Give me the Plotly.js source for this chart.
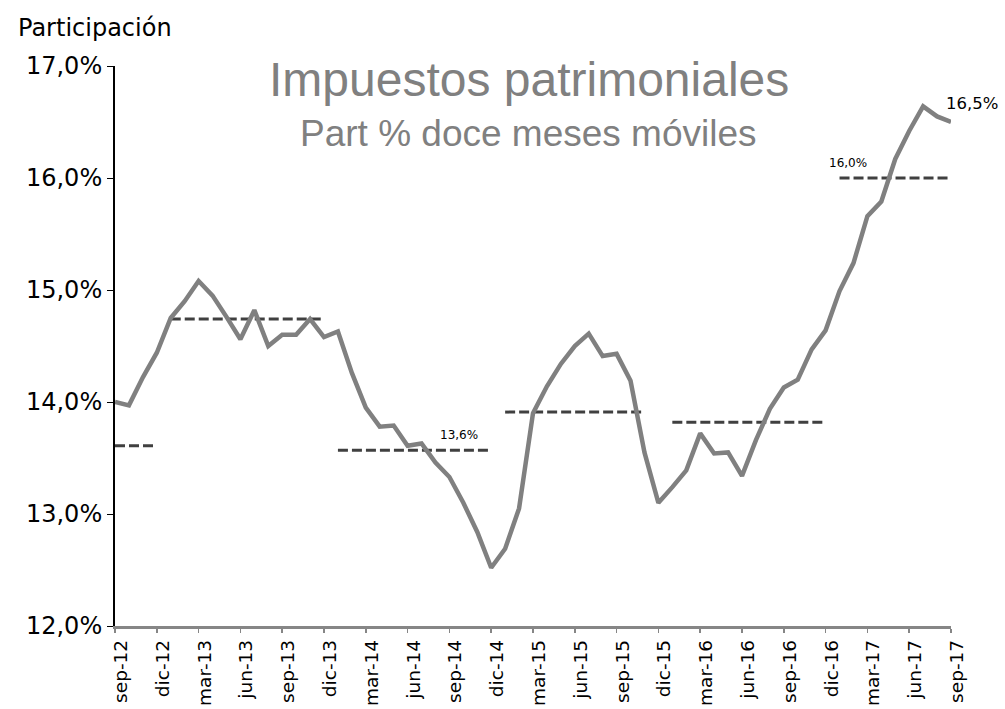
<!DOCTYPE html>
<html>
<head>
<meta charset="utf-8">
<script src="https://cdn.plot.ly/plotly-3.0.1.min.js"></script>
<style>html,body{margin:0;padding:0;background:#fff;}#chart{width:1005px;height:709px;}</style>
</head>
<body>
<div id="chart"></div>
<script>
// Monthly categories (sep-12 .. sep-17)
const months = [
  'sep-12','oct-12','nov-12','dic-12',
  'ene-13','feb-13','mar-13','abr-13','may-13','jun-13','jul-13','ago-13','sep-13','oct-13','nov-13','dic-13',
  'ene-14','feb-14','mar-14','abr-14','may-14','jun-14','jul-14','ago-14','sep-14','oct-14','nov-14','dic-14',
  'ene-15','feb-15','mar-15','abr-15','may-15','jun-15','jul-15','ago-15','sep-15','oct-15','nov-15','dic-15',
  'ene-16','feb-16','mar-16','abr-16','may-16','jun-16','jul-16','ago-16','sep-16','oct-16','nov-16','dic-16',
  'ene-17','feb-17','mar-17','abr-17','may-17','jun-17','jul-17','ago-17','sep-17'
];
// Participación (%) doce meses móviles
const participacion = [
  14.00, 13.97, 14.22, 14.44,
  14.75, 14.90, 15.08, 14.95, 14.76, 14.56, 14.82, 14.50, 14.60, 14.60, 14.74, 14.58,
  14.63, 14.26, 13.95, 13.78, 13.79, 13.61, 13.63, 13.46, 13.33, 13.10, 12.84, 12.52,
  12.69, 13.05, 13.90, 14.14, 14.34, 14.50, 14.61, 14.41, 14.43, 14.19, 13.55, 13.10,
  13.24, 13.39, 13.72, 13.54, 13.55, 13.34, 13.66, 13.94, 14.13, 14.20, 14.47, 14.64,
  14.99, 15.24, 15.66, 15.79, 16.17, 16.42, 16.64, 16.55, 16.50
];
// Annual averages (dashed lines)
const avgStart = ['sep-12','ene-13','ene-14','ene-15','ene-16','ene-17'];
const avgEnd   = ['dic-12','dic-13','dic-14','nov-15','dic-16','sep-17'];
const avgValue = [13.61, 14.74, 13.57, 13.91, 13.82, 16.00];
// Axis tick labels
const tickLabels = ['sep-12','dic-12','mar-13','jun-13','sep-13','dic-13','mar-14','jun-14','sep-14','dic-14',
  'mar-15','jun-15','sep-15','dic-15','mar-16','jun-16','sep-16','dic-16','mar-17','jun-17','sep-17'];
const yTicks = [12, 13, 14, 15, 16, 17];
const yTickText = ['12,0%', '13,0%', '14,0%', '15,0%', '16,0%', '17,0%'];

const FONT = '"DejaVu Sans", Verdana, sans-serif';
const traces = [];
for (let i = 0; i < avgValue.length; i++) {
  traces.push({
    x: [avgStart[i], avgEnd[i]],
    y: [avgValue[i], avgValue[i]],
    type: 'scatter', mode: 'lines',
    line: {color: '#404040', width: 3, dash: '10px,4px'},
    hoverinfo: 'skip', showlegend: false
  });
}
traces.push({
  x: months, y: participacion, type: 'scatter', mode: 'lines',
  line: {color: '#808080', width: 4.5},
  showlegend: false
});

const lastIdx = months.length - 1;
const layout = {
  width: 1005, height: 709,
  margin: {l: 115, r: 54, t: 66, b: 83},
  paper_bgcolor: '#ffffff', plot_bgcolor: '#ffffff',
  showlegend: false,
  font: {family: FONT, color: '#000'},
  xaxis: {
    type: 'category', categoryorder: 'array', categoryarray: months,
    range: [0, lastIdx],
    tickvals: tickLabels, ticktext: tickLabels,
    tickangle: -90, ticklabelshift: 6,
    tickfont: {size: 18.5, family: FONT, color: '#000'},
    showgrid: false, zeroline: false,
    showline: true, linecolor: '#868686', linewidth: 2.5,
    ticks: 'outside', ticklen: 4, tickcolor: '#868686', tickwidth: 1.5
  },
  yaxis: {
    range: [12, 17], tickvals: yTicks, ticktext: yTickText,
    tickfont: {size: 24, family: FONT, color: '#000'},
    showgrid: false, zeroline: false,
    showline: true, linecolor: '#000', linewidth: 2,
    ticks: 'outside', ticklen: 6, tickcolor: '#000', tickwidth: 1
  },
  annotations: [
    {xref: 'paper', yref: 'paper', x: 0.495, y: 0.976, xanchor: 'center', yanchor: 'middle',
     text: 'Impuestos patrimoniales', showarrow: false,
     font: {family: '"Liberation Sans", Arial, sans-serif', size: 48, color: '#808080'}},
    {xref: 'paper', yref: 'paper', x: 0.495, y: 0.879, xanchor: 'center', yanchor: 'middle',
     text: 'Part % doce meses móviles', showarrow: false,
     font: {family: '"Liberation Sans", Arial, sans-serif', size: 37, color: '#808080'}},
    {xref: 'paper', yref: 'paper', x: -0.118, y: 1.067, xanchor: 'left', yanchor: 'middle',
     text: 'Participación', showarrow: false,
     font: {family: FONT, size: 24, color: '#000'}},
    {x: 24.7, y: 13.705, text: '13,6%', showarrow: false, xanchor: 'center', yanchor: 'middle',
     font: {size: 12, color: '#000'}},
    {x: 52.6, y: 16.134, text: '16,0%', showarrow: false, xanchor: 'center', yanchor: 'middle',
     font: {size: 12, color: '#000'}},
    {x: lastIdx, y: participacion[lastIdx], text: '16,5%', showarrow: false,
     xanchor: 'center', yanchor: 'bottom', xshift: 21, yshift: 7,
     font: {size: 16.5, color: '#000'}}
  ]
};

Plotly.newPlot('chart', traces, layout, {displayModeBar: false, staticPlot: true});
</script>
</body>
</html>
